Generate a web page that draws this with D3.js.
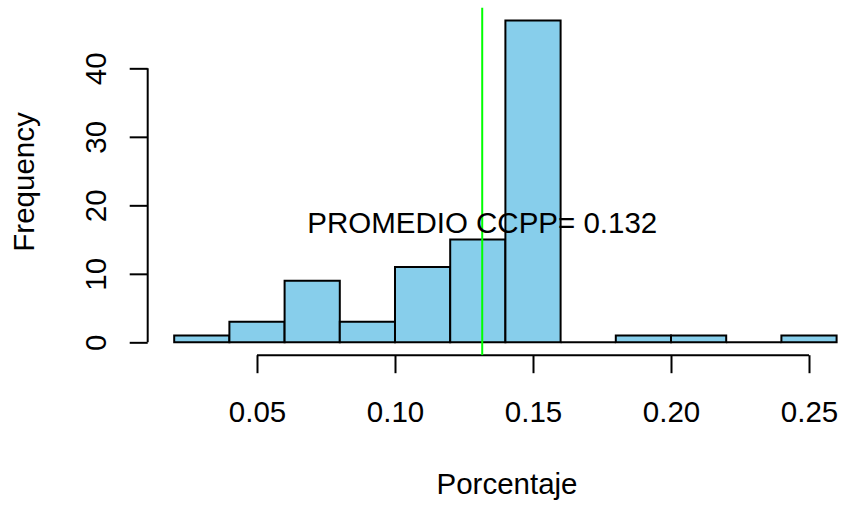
<!DOCTYPE html>
<html>
<head>
<meta charset="utf-8">
<script src="https://cdn.jsdelivr.net/npm/d3@7"></script>
<style>
  body { margin: 0; background: #fff; }
  text { font-family: "Liberation Sans", Arial, Helvetica, sans-serif; fill: #000; }
</style>
</head>
<body>
<script>
// Histogram data
var breaks = [0.02, 0.04, 0.06, 0.08, 0.10, 0.12, 0.14, 0.16, 0.18, 0.20, 0.22, 0.24, 0.26];
var counts = [1, 3, 9, 3, 11, 15, 47, 0, 1, 1, 0, 1];
var xTicks = [0.05, 0.10, 0.15, 0.20, 0.25];
var xTickLabels = ["0.05", "0.10", "0.15", "0.20", "0.25"];
var yTicks = [0, 10, 20, 30, 40];
var meanValue = 0.1316;
var meanLabel = "PROMEDIO CCPP= 0.132";
var labelY = 17.5;

var W = 843, H = 506;
var margin = {top: 7.5, left: 147.7},
    width = 715.4,
    height = 347.7;
var fontSize = 29.5;

var bins = counts.map((c, i) => ({x0: breaks[i], x1: breaks[i + 1], n: c}));

// R style: 4% padding around the data range
var xPad = (breaks[breaks.length - 1] - breaks[0]) * 0.04,
    yPad = d3.max(counts) * 0.04;
var xScale = d3.scaleLinear()
    .domain([breaks[0] - xPad, breaks[breaks.length - 1] + xPad])
    .range([0, width]);
var yScale = d3.scaleLinear()
    .domain([-yPad, d3.max(counts) + yPad])
    .range([height, 0]);

var svg = d3.select("body").append("svg")
    .attr("width", W)
    .attr("height", H);

svg.append("rect").attr("width", W).attr("height", H).attr("fill", "#fff");

svg.append("defs").append("clipPath")
   .attr("id", "clip")
   .append("rect")
   .attr("width", width)
   .attr("height", height);

var g = svg.append("g")
    .attr("transform", "translate(" + margin.left + "," + margin.top + ")");

// bars as closed paths so empty bins still show their outline
g.selectAll(".bar")
 .data(bins)
 .enter()
 .append("path")
 .attr("class", "bar")
 .attr("d", d => {
   var x0 = xScale(d.x0), x1 = xScale(d.x1),
       y0 = yScale(0), y1 = yScale(d.n);
   return "M" + x0 + "," + y0 + "V" + y1 + "H" + x1 + "V" + y0 + "Z";
 })
 .attr("fill", "#87CEEB")
 .attr("stroke", "#000")
 .attr("stroke-width", 2)
 .attr("stroke-linejoin", "miter");

// x axis
var xAxis = d3.axisBottom(xScale)
    .tickValues(xTicks)
    .tickFormat((d, i) => xTickLabels[i])
    .tickSize(18)
    .tickPadding(28);

var gx = g.append("g")
    .attr("transform", "translate(0," + height + ")")
    .call(xAxis);
gx.select(".domain").remove();
gx.append("line")
  .attr("x1", xScale(xTicks[0]))
  .attr("x2", xScale(xTicks[xTicks.length - 1]))
  .attr("stroke", "#000")
  .attr("stroke-width", 2);
gx.selectAll(".tick line").attr("stroke-width", 2);
gx.selectAll(".tick text")
  .attr("font-size", fontSize)
  .attr("font-family", null);

// y axis
var yAxis = d3.axisLeft(yScale)
    .tickValues(yTicks)
    .tickSize(18);

var gy = g.append("g").call(yAxis);
gy.select(".domain").remove();
gy.append("line")
  .attr("y1", yScale(yTicks[0]))
  .attr("y2", yScale(yTicks[yTicks.length - 1]))
  .attr("stroke", "#000")
  .attr("stroke-width", 2);
gy.selectAll(".tick line").attr("stroke-width", 2);
gy.selectAll(".tick text")
  .attr("font-size", fontSize)
  .attr("font-family", null)
  .attr("x", null)
  .attr("dy", null)
  .attr("text-anchor", "middle")
  .attr("transform", "translate(-42,0) rotate(-90)");

// mean line
g.append("line")
 .attr("clip-path", "url(#clip)")
 .attr("x1", xScale(meanValue))
 .attr("x2", xScale(meanValue))
 .attr("y1", 0)
 .attr("y2", height)
 .attr("stroke", "#00FF00")
 .attr("stroke-width", 2);

// annotation
g.append("text")
 .attr("x", xScale(meanValue))
 .attr("y", yScale(labelY))
 .attr("dy", "0.35em")
 .attr("text-anchor", "middle")
 .attr("font-size", fontSize)
 .text(meanLabel);

// axis titles
svg.append("text")
   .attr("x", 507)
   .attr("y", 494)
   .attr("text-anchor", "middle")
   .attr("font-size", fontSize)
   .text("Porcentaje");

svg.append("text")
   .attr("transform", "translate(33.5," + 182 + ") rotate(-90)")
   .attr("text-anchor", "middle")
   .attr("font-size", fontSize)
   .text("Frequency");
</script>
</body>
</html>
